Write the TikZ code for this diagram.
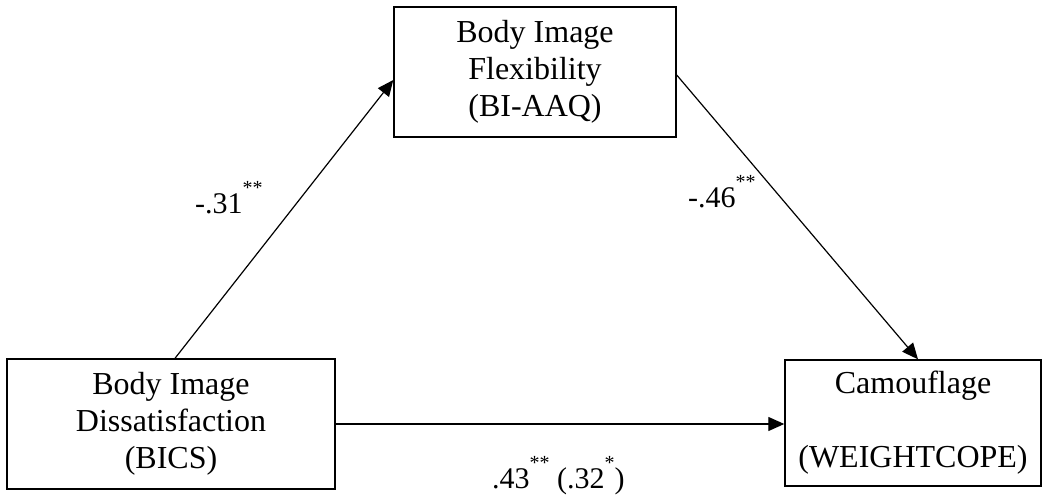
\documentclass[tikz,border=0pt]{standalone}
\usepackage{fontspec}
\setmainfont{Liberation Serif}
\usetikzlibrary{arrows.meta}
\newcommand{\sig}[1]{\raisebox{19pt}{\fontsize{20}{20}\selectfont #1}}
\begin{document}
\begin{tikzpicture}[x=1pt,y=-1pt,
  box/.style={draw,line width=1.4pt,inner sep=0pt,align=center,font=\fontsize{32}{37}\selectfont},
  lab/.style={inner sep=0pt,anchor=base west,font=\fontsize{30}{34}\selectfont},
  arr/.style={line width=1.2pt,-{Triangle[length=16pt,width=14pt]}}]
\useasboundingbox (0,0) rectangle (1045,502);
\node[box,minimum width=282pt,minimum height=130pt] (T) at (535,72) {Body Image\\Flexibility\\(BI-AAQ)};
\node[box,minimum width=328pt,minimum height=130pt] (L) at (171,424) {Body Image\\Dissatisfaction\\(BICS)};
\node[box,minimum width=256pt,minimum height=126pt] (R) at (913,423) {Camouflage\\[37pt](WEIGHTCOPE)};
\draw[arr] ([xshift=4pt]L.north) -- ([yshift=-8pt]T.west);
\draw[arr] ([yshift=-3pt]T.east) -- ([xshift=5pt]R.north);
\draw[arr] (L.east) -- (L.east -| R.west);
\node[lab] (a) at (195,214) {-.31\sig{**}};
\node[lab] (b) at (688,208) {-.46\sig{**}};
\node[lab] (c) at (492,489) {.43\sig{**} (.32\sig{*})};
\end{tikzpicture}
\end{document}
